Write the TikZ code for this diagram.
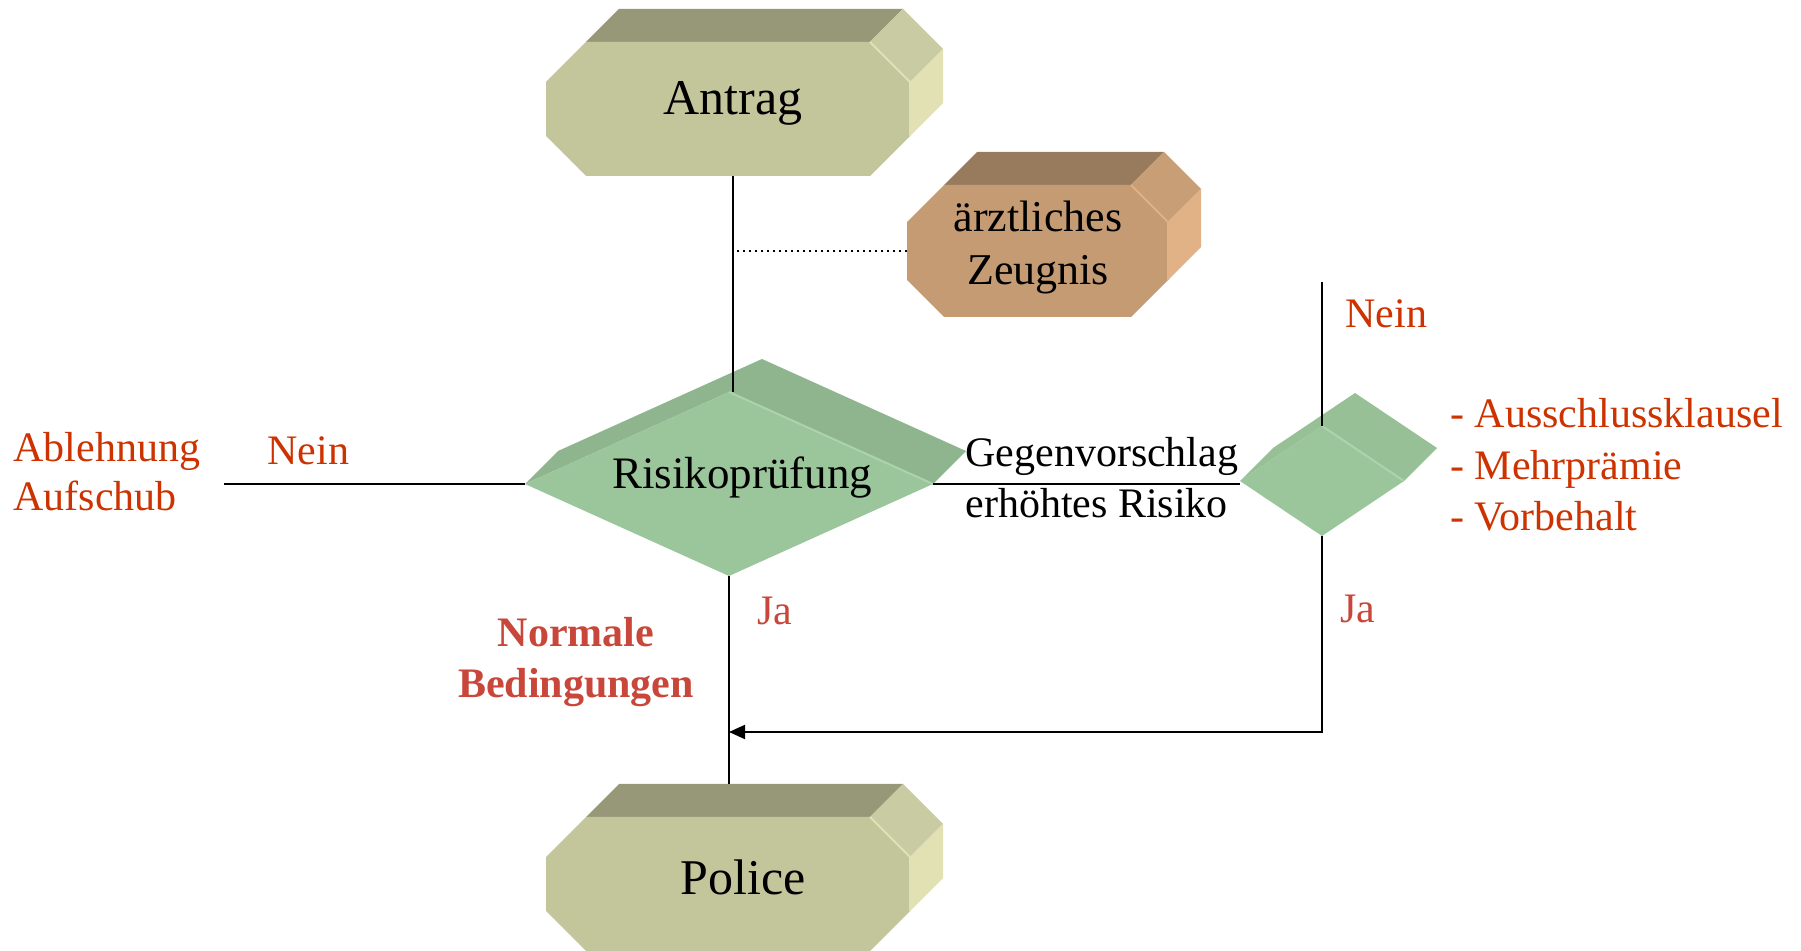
\documentclass[tikz,border=0pt]{standalone}
\usepackage{fontspec}
\setmainfont{Liberation Serif}
\usepackage{tikz}
\usepackage{xcolor}
\definecolor{olivefront}{HTML}{C3C59B}
\definecolor{olivetop}{HTML}{979878}
\definecolor{olivecorner}{HTML}{C9CBA3}
\definecolor{oliveside}{HTML}{E1E1B4}
\definecolor{brownfront}{HTML}{C49B73}
\definecolor{browntop}{HTML}{987B5D}
\definecolor{browncorner}{HTML}{C89E76}
\definecolor{brownside}{HTML}{E0B285}
\definecolor{greenfront}{HTML}{9BC59B}
\definecolor{greenback}{HTML}{8FB58F}
\definecolor{paleback}{HTML}{97C097}
\definecolor{greenedge}{HTML}{ADD3AD}
\definecolor{nogo}{HTML}{CC3300}
\definecolor{okay}{HTML}{C8473A}
\tikzset{conn/.style={draw=black,line width=1pt},
 flow/.style={conn,-{Triangle[length=8pt,width=7pt]}},
 tag/.style={inner sep=0pt,anchor=base west,font=\fontsize{21}{25}\selectfont},
 nein/.style={tag,text=nogo},
 ja/.style={tag,text=okay},
 title/.style={inner sep=0pt,anchor=base,font=\fontsize{25}{30}\selectfont},
 inbox/.style={inner sep=0pt,anchor=base,font=\fontsize{22}{26}\selectfont},
 }
\usetikzlibrary{arrows.meta}
\newcommand{\prismdepth}{33}
\newcommand{\octprism}[7]{%
  \fill[#6top] (#1+#5,#2) -- (#1+#5+\prismdepth,#2-\prismdepth) -- (#3-#5+\prismdepth,#2-\prismdepth) -- (#3-#5,#2) -- cycle;
  \fill[#6corner] (#3-#5,#2) -- (#3-#5+\prismdepth,#2-\prismdepth) -- (#3+\prismdepth,#2+#5-\prismdepth) -- (#3,#2+#5) -- cycle;
  \fill[#6side] (#3,#2+#5) -- (#3+\prismdepth,#2+#5-\prismdepth) -- (#3+\prismdepth,#4-#5-\prismdepth) -- (#3,#4-#5) -- cycle;
  \fill[#6front] (#1+#5,#2) -- (#3-#5,#2) -- (#3,#2+#5) -- (#3,#4-#5) -- (#3-#5,#4) -- (#1+#5,#4) -- (#1,#4-#5) -- (#1,#2+#5) -- cycle;
  \draw[#6side,line width=1pt] (#3-#5,#2) -- (#3,#2+#5) -- (#3,#4-#5);
  \coordinate (#7-n) at ({(#1+#3)/2},#2-\prismdepth);
  \coordinate (#7-s) at ({(#1+#3)/2},#4);
  \coordinate (#7-w) at (#1,{(#2+#4)/2});
}
\newcommand{\diaprism}[6]{%
  \fill[#5] (#1-#3,#2) -- (#1-#3+\prismdepth,#2-\prismdepth) -- (#1+\prismdepth,#2-#4-\prismdepth) -- (#1+#3+\prismdepth,#2-\prismdepth) -- (#1+#3,#2) -- (#1,#2-#4) -- cycle;
  \fill[greenfront] (#1-#3,#2) -- (#1,#2-#4) -- (#1+#3,#2) -- (#1,#2+#4) -- cycle;
  \draw[greenedge,line width=1pt] (#1,#2-#4) -- (#1+#3,#2);
  \coordinate (#6-n) at (#1,#2-#4);
  \coordinate (#6-s) at (#1,#2+#4);
  \coordinate (#6-w) at (#1-#3,#2);
  \coordinate (#6-e) at (#1+#3,#2);
}

\begin{document}
\begin{tikzpicture}[x=0.5pt,y=-0.5pt]
    \useasboundingbox (0,0) rectangle (1801,951);
    \octprism{546}{42}{910}{176}{40}{olive}{antrag}
    \octprism{907}{185}{1168}{317}{37}{brown}{zeugnis}
    \octprism{546}{817}{910}{951}{40}{olive}{police}
    \diaprism{729}{484}{204}{92}{greenback}{risiko}
    \diaprism{1322}{481}{82}{55}{paleback}{check}
    \node[title] (antrag) at (733,115) {Antrag};
    \node[title] (police) at (743,895) {Police};
    \node[inbox] (arzt) at (1038,232) {ärztliches};
    \node[inbox] (zeugnis) at (1038,285) {Zeugnis};
    \node[inbox,font=\fontsize{22.5}{27}\selectfont] (risiko) at (742,489) {Risikoprüfung};
    \node[tag] (gegen) at (965,467) {Gegenvorschlag};
    \node[tag] (erhoeht) at (965,518) {erhöhtes Risiko};
    \node[nein] (ablehnung) at (13,462) {Ablehnung};
    \node[nein] (aufschub) at (13,511) {Aufschub};
    \node[nein] (neinleft) at (267,465) {Nein};
    \node[nein] (neinright) at (1345,328) {Nein};
    \node[nein] (klausel) at (1450,428) {- Ausschlussklausel};
    \node[nein] (praemie) at (1450,480) {- Mehrprämie};
    \node[nein] (vorbehalt) at (1450,531) {- Vorbehalt};
    \node[ja] (jaleft) at (757,625) {Ja};
    \node[ja] (jaright) at (1340,623) {Ja};
    \node[ja,anchor=base,font=\fontsize{21}{25}\selectfont\bfseries] (normal) at (576,647) {Normale};
    \node[ja,anchor=base,font=\fontsize{21}{25}\selectfont\bfseries] (beding) at (576,698) {Bedingungen};
    \coordinate (reject) at (224,484);
    \coordinate (counter) at (1322,282);
    \coordinate (join) at (729,732);
    \coordinate (feed) at ([xshift=2.5pt]antrag-s);
    \draw[conn] (feed) -- (feed |- risiko-n);
    \draw[conn,dotted,line width=0.6pt] (zeugnis-w) -- (zeugnis-w -| feed);
    \draw[conn] (risiko-w) -- (reject);
    \draw[conn] (risiko-e) -- (risiko-e -| check-w);
    \draw[conn] (risiko-s) -- (risiko-s |- police-n);
    \draw[conn] (check-n) -- (counter);
    \draw[flow] (check-s) |- (join);
\end{tikzpicture}
\end{document}
